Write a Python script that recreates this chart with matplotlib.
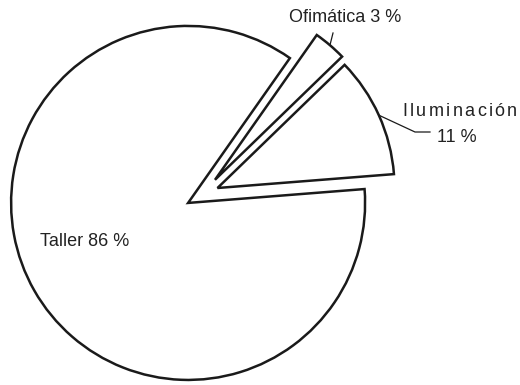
import numpy as np
import matplotlib.pyplot as plt

plt.rcParams['font.family'] = ['Liberation Sans', 'DejaVu Sans']

labels = ['Iluminación', 'Ofimática', 'Taller']
values = [11, 3, 86]
explode = [17, 20, 16]  # pixels

fig = plt.figure(figsize=(5.2, 3.85), dpi=100)
ax = fig.add_axes([0, 0, 1, 1])

R = 177
cx, cy = 202, 385 - 195
wedges, _ = ax.pie(values, startangle=4.5, radius=R, center=(cx, cy),
                   explode=explode,
                   wedgeprops=dict(facecolor='white', edgecolor='#1a1a1a', linewidth=1.8,
                                   joinstyle='miter'))
ax.set_xlim(0, 520)
ax.set_ylim(0, 385)
ax.set_aspect('equal')
ax.axis('off')


def arc_point(w, rr=1.0):
    a = np.deg2rad((w.theta1 + w.theta2) / 2)
    x0, y0 = w.center
    return x0 + rr * w.r * np.cos(a), y0 + rr * w.r * np.sin(a)


def spaced_text(x_right, y, s, gap, **kw):
    # letter-spaced text, drawn char by char, right aligned at x_right
    r = fig.canvas.get_renderer()
    widths = []
    for ch in s:
        t = ax.text(0, 0, ch, **kw)
        widths.append(t.get_window_extent(r).width)
        t.remove()
    total = sum(widths) + gap * (len(s) - 1)
    x = x_right - total
    for ch, w in zip(s, widths):
        ax.text(x, y, ch, ha='left', va='center', **kw)
        x += w + gap


txt = dict(fontsize=13, color='#222222')

# Iluminación label
px, py = arc_point(wedges[0])
ax.plot([px, 415, 430], [py, 385 - 132, 385 - 132], color='#1a1a1a', lw=0.9)
spaced_text(517, 385 - 112, labels[0], 2.3, **txt)
ax.text(457, 385 - 137, '%d %%' % values[0], ha='center', va='center', **txt)

# Ofimática label
px, py = arc_point(wedges[1])
ax.plot([px, 333], [py, 385 - 33], color='#1a1a1a', lw=0.9)
ax.text(345, 385 - 18, '%s %d %%' % (labels[1], values[1]), ha='center', va='center', **txt)

# Taller label
ax.text(40, 385 - 241, '%s %d %%' % (labels[2], values[2]), ha='left', va='center', **txt)

fig.savefig('out.png', dpi=100)
